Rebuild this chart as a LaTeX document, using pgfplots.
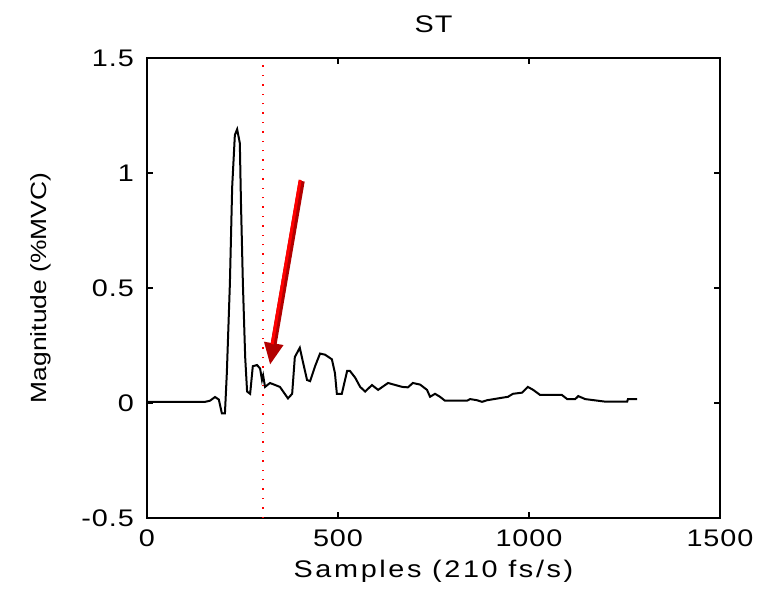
\documentclass[border=0pt]{standalone}
\usepackage{fontspec}
\setmainfont{Liberation Sans}[FakeStretch=1.2,LetterSpace=4]
\usepackage{pgfplots}
\pgfplotsset{compat=1.18}
\usetikzlibrary{arrows.meta}
\begin{document}
\begin{tikzpicture}[font=\fontsize{24bp}{28bp}\selectfont]
\begin{axis}[
  width=573bp, height=460bp, scale only axis,
  xmin=0, xmax=1500, ymin=-0.5, ymax=1.5,
  xtick={0,500,1000,1500},
  ytick={-0.5,0,0.5,1,1.5},
  yticklabels={-0.5,0,0.5,1,1.5},
  tick align=inside,
  major tick length=6bp,
  axis line style={line width=1.3bp},
  every tick/.style={black, line width=1.3bp},
  /pgf/number format/assume math mode=true,
  /pgf/number format/1000 sep={},
  scaled ticks=false,
  xticklabel style={inner sep=0pt, anchor=north, yshift=-12bp},
  yticklabel style={inner sep=0pt, anchor=east, xshift=-13bp},
  title={ST},
  title style={at={(axis description cs:0.5,1.061)}, anchor=center, inner sep=0pt},
  xlabel={\addfontfeature{LetterSpace=11}Samples (210 fs/s)},
  xlabel style={at={(axis description cs:0.5,-0.1152)}, anchor=center, inner sep=0pt},
  ylabel={\fontsize{22bp}{26bp}\selectfont\addfontfeature{LetterSpace=0}Magnitude (\%MVC)},
  ylabel style={at={(axis description cs:-0.1850,0.5)}, anchor=center, rotate=0, inner sep=0pt},
  clip=false,
]
\addplot[red, line width=1.4bp, dash pattern=on 1.4bp off 8bp] coordinates {(304,-0.5) (304,1.5)};
\addplot[black, line width=2bp] coordinates {
(0,0.005) (152,0.005) (165,0.01) (178,0.026) (188,0.015) (196,-0.045) (204,-0.045)
(209,0.13) (217,0.52) (223,0.94) (230,1.165) (236,1.19) (243,1.13) (246,0.87)
(251,0.52) (257,0.2) (262,0.05) (270,0.04) (277,0.16) (288,0.165) (296,0.15)
(301,0.1) (304,0.12) (309,0.07) (322,0.087) (348,0.07) (369,0.02) (380,0.04)
(387,0.2) (400,0.24) (408,0.18) (419,0.1) (427,0.095) (440,0.16) (453,0.215)
(466,0.21) (484,0.19) (492,0.13) (497,0.04) (510,0.04) (524,0.14) (531,0.14)
(545,0.11) (558,0.07) (571,0.05) (589,0.078) (605,0.057) (631,0.087) (668,0.07)
(683,0.068) (696,0.087) (715,0.08) (733,0.057) (741,0.027) (754,0.04) (767,0.027)
(780,0.01) (838,0.01) (846,0.017) (864,0.012) (877,0.005) (890,0.012) (919,0.02)
(945,0.027) (958,0.04) (982,0.045) (997,0.07) (1011,0.057) (1029,0.035) (1086,0.035)
(1100,0.017) (1121,0.017) (1129,0.03) (1147,0.017) (1199,0.006) (1257,0.006)
(1259,0.017) (1283,0.017)
};
\draw[-{Triangle[length=22bp,width=18bp]}, line width=6bp, red!70!black] (axis cs:405,0.965) -- (axis cs:322,0.165);
\draw[line width=3bp, red, shorten >=20bp] (axis cs:401,0.97) -- (axis cs:319,0.17);
\end{axis}
\path ([shift={(-147bp,-73bp)}]current axis.south west) rectangle ([shift={(612bp,518bp)}]current axis.south west);
\end{tikzpicture}
\end{document}
